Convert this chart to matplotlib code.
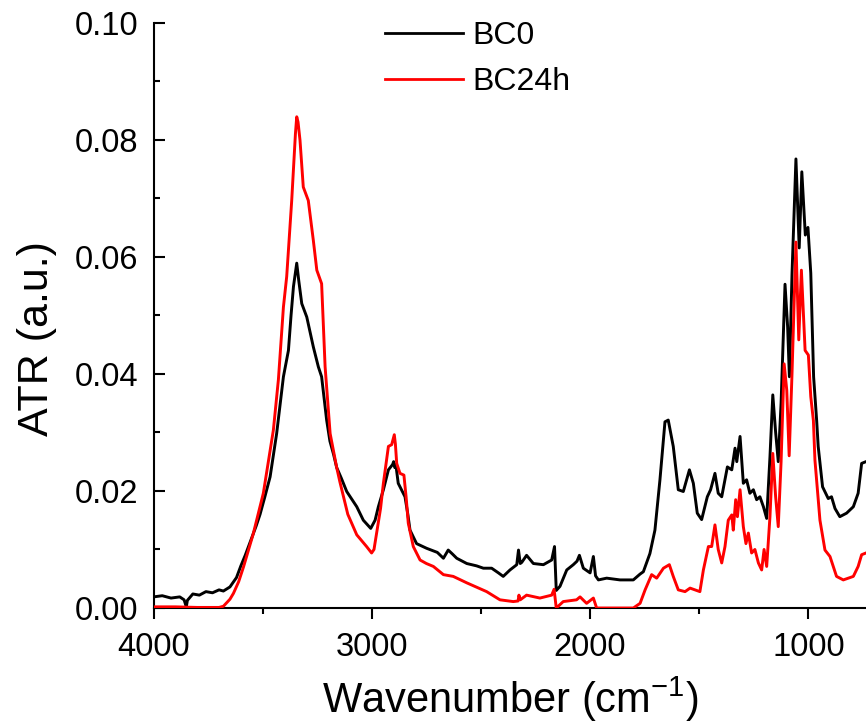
import matplotlib
matplotlib.use("Agg")
import matplotlib.pyplot as plt
from matplotlib.ticker import MultipleLocator

plt.rcParams['font.family'] = ['Liberation Sans', 'DejaVu Sans']
plt.rcParams['mathtext.fontset'] = 'custom'
plt.rcParams['mathtext.rm'] = 'Liberation Sans'
plt.rcParams['mathtext.it'] = 'Liberation Sans'
plt.rcParams['mathtext.default'] = 'regular'

# ---- data (wavenumber cm-1, ATR a.u.) ----
bc0_wn = [4000, 3960, 3920, 3880, 3860, 3850, 3845, 3820, 3790, 3760, 3730, 3700, 3680,
          3650, 3620, 3600, 3580, 3558, 3530, 3512, 3490, 3466, 3436, 3405, 3382, 3370,
          3359, 3344, 3335, 3321, 3298, 3268, 3245, 3230, 3207, 3192, 3175, 3161, 3140,
          3115, 3069, 3039, 3005, 2985, 2970, 2947, 2924, 2905, 2900, 2895, 2890, 2879,
          2848, 2835, 2825, 2795, 2749, 2700, 2672, 2650, 2630, 2611, 2565, 2520, 2489,
          2451, 2420, 2398, 2367, 2336, 2328, 2320, 2313, 2291, 2260, 2214, 2176, 2163,
          2155, 2138, 2107, 2077, 2060, 2049, 2031, 2000, 1985, 1975, 1962, 1924, 1863,
          1802, 1771, 1756, 1726, 1703, 1680, 1657, 1642, 1619, 1596, 1573, 1545, 1527,
          1509, 1489, 1463, 1448, 1428, 1413, 1397, 1371, 1351, 1336, 1328, 1313, 1298,
          1283, 1268, 1252, 1237, 1222, 1206, 1191, 1176, 1163, 1150, 1138, 1125, 1107,
          1095, 1087, 1075, 1065, 1057, 1042, 1030, 1014, 1002, 989, 976, 962, 955, 935,
          909, 894, 878, 856, 825, 794, 772, 756, 736]
bc0_y = [0.0019, 0.0021, 0.0017, 0.0019, 0.0014, 0.0002, 0.0013, 0.0024, 0.0022, 0.0028,
         0.0026, 0.0031, 0.0029, 0.0036, 0.0052, 0.0072, 0.0090, 0.0112, 0.0140, 0.0160,
         0.0190, 0.0224, 0.0298, 0.0395, 0.0440, 0.0500, 0.0549, 0.0589, 0.0560, 0.0520,
         0.0497, 0.0446, 0.0412, 0.0395, 0.0321, 0.0285, 0.0262, 0.0240, 0.0222, 0.0199,
         0.0173, 0.0150, 0.0136, 0.0150, 0.0173, 0.0202, 0.0236, 0.0245, 0.0250, 0.0240,
         0.0245, 0.0213, 0.0190, 0.0160, 0.0133, 0.0110, 0.0102, 0.0095, 0.0085, 0.0099,
         0.0092, 0.0085, 0.0076, 0.0072, 0.0068, 0.0068, 0.0060, 0.0054, 0.0065, 0.0074,
         0.0099, 0.0076, 0.0078, 0.0090, 0.0076, 0.0074, 0.0082, 0.0105, 0.0030, 0.0037,
         0.0065, 0.0074, 0.0080, 0.0090, 0.0068, 0.0060, 0.0088, 0.0055, 0.0048, 0.0051,
         0.0048, 0.0048, 0.0058, 0.0062, 0.0093, 0.0133, 0.0219, 0.0318, 0.0321, 0.0276,
         0.0202, 0.0199, 0.0236, 0.0213, 0.0162, 0.0151, 0.0190, 0.0202, 0.0230, 0.0196,
         0.0190, 0.0241, 0.0236, 0.0273, 0.0250, 0.0293, 0.0213, 0.0219, 0.0196, 0.0202,
         0.0185, 0.0190, 0.0173, 0.0153, 0.0258, 0.0364, 0.0300, 0.0250, 0.0350, 0.0553,
         0.0480, 0.0395, 0.0570, 0.0680, 0.0767, 0.0615, 0.0745, 0.0637, 0.0650, 0.0572,
         0.0395, 0.0320, 0.0276, 0.0207, 0.0187, 0.0190, 0.0170, 0.0156, 0.0162, 0.0173,
         0.0196, 0.0247, 0.0250]

bc24_wn = [4000, 3900, 3800, 3700, 3680, 3650, 3634, 3610, 3588, 3543, 3497, 3451, 3428,
           3405, 3390, 3367, 3350, 3344, 3338, 3329, 3314, 3300, 3291, 3268, 3252, 3230,
           3214, 3191, 3161, 3146, 3110, 3069, 3040, 3024, 3001, 2990, 2978, 2960, 2947,
           2924, 2909, 2897, 2892, 2886, 2871, 2853, 2843, 2833, 2810, 2779, 2750, 2718,
           2672, 2627, 2565, 2474, 2413, 2352, 2330, 2326, 2320, 2291, 2230, 2176, 2165,
           2155, 2123, 2062, 2046, 2016, 1985, 1970, 1802, 1771, 1748, 1718, 1695, 1664,
           1637, 1619, 1596, 1565, 1542, 1497, 1481, 1458, 1443, 1428, 1413, 1397, 1382,
           1367, 1351, 1344, 1333, 1325, 1313, 1298, 1286, 1275, 1260, 1245, 1229, 1214,
           1203, 1191, 1176, 1163, 1150, 1138, 1125, 1111, 1099, 1088, 1075, 1057, 1044,
           1032, 1015, 1000, 989, 977, 970, 947, 924, 901, 886, 871, 840, 794, 772, 756, 736]
bc24_y = [0.0002, 0.0002, 0.0001, 0.0001, 0.0003, 0.0015, 0.0025, 0.0045, 0.0070, 0.0127,
          0.0196, 0.0304, 0.0390, 0.0514, 0.0566, 0.0696, 0.0810, 0.0839, 0.0830, 0.0799,
          0.0719, 0.0705, 0.0696, 0.0628, 0.0577, 0.0554, 0.0412, 0.0298, 0.0240, 0.0215,
          0.0160, 0.0125, 0.0112, 0.0105, 0.0094, 0.0100, 0.0128, 0.0170, 0.0213, 0.0276,
          0.0279, 0.0296, 0.0280, 0.0247, 0.0230, 0.0227, 0.0190, 0.0145, 0.0105, 0.0082,
          0.0076, 0.0071, 0.0057, 0.0054, 0.0043, 0.0028, 0.0014, 0.0011, 0.0012, 0.0022,
          0.0014, 0.0022, 0.0017, 0.0022, 0.0032, 0.0000, 0.0011, 0.0014, 0.0019, 0.0008,
          0.0017, 0.0000, 0.0000, 0.0008, 0.0031, 0.0057, 0.0051, 0.0068, 0.0074, 0.0054,
          0.0031, 0.0028, 0.0034, 0.0028, 0.0065, 0.0105, 0.0105, 0.0142, 0.0100, 0.0077,
          0.0105, 0.0150, 0.0159, 0.0133, 0.0185, 0.0156, 0.0202, 0.0139, 0.0110, 0.0128,
          0.0094, 0.0100, 0.0077, 0.0065, 0.0100, 0.0071, 0.0156, 0.0264, 0.0190, 0.0139,
          0.0250, 0.0417, 0.0372, 0.0260, 0.0400, 0.0625, 0.0458, 0.0577, 0.0440, 0.0432,
          0.0361, 0.0320, 0.0253, 0.0150, 0.0099, 0.0088, 0.0071, 0.0054, 0.0048, 0.0054,
          0.0071, 0.0091, 0.0094]

labels = ['BC0', 'BC24h']
colors = ['black', '#ff0000']

fig = plt.figure(figsize=(8.66, 7.24), dpi=100)
ax = fig.add_axes([0.1773, 0.1602, 0.8227, 0.8087])

ax.plot(bc0_wn, bc0_y, color=colors[0], lw=2.1, label=labels[0], zorder=2)
ax.plot(bc24_wn, bc24_y, color=colors[1], lw=2.1, label=labels[1], zorder=3)

ax.set_xlim(4000, 736)
ax.set_ylim(0, 0.10)

ax.xaxis.set_major_locator(MultipleLocator(1000))
ax.xaxis.set_minor_locator(MultipleLocator(500))
ax.yaxis.set_major_locator(MultipleLocator(0.02))
ax.yaxis.set_minor_locator(MultipleLocator(0.01))
ax.yaxis.set_major_formatter(matplotlib.ticker.FormatStrFormatter('%.2f'))

for s in ['top', 'right']:
    ax.spines[s].set_visible(False)
for s in ['left', 'bottom']:
    ax.spines[s].set_linewidth(1.5)

ax.tick_params(axis='y', which='both', direction='in', width=1.5, labelsize=23.5, pad=11)
ax.tick_params(axis='y', which='major', length=8)
ax.tick_params(axis='y', which='minor', length=4.5)
ax.tick_params(axis='x', which='both', direction='out', width=1.5, labelsize=23.5, pad=9)
ax.tick_params(axis='x', which='major', length=8)
ax.tick_params(axis='x', which='minor', length=4.5)

ax.set_xlabel(r'Wavenumber (cm$^{-1}$)', fontsize=30)
ax.set_ylabel('ATR (a.u.)', fontsize=31)
ax.xaxis.set_label_coords(0.50, -0.113)
ax.yaxis.set_label_coords(-0.135, 0.461)

leg = ax.legend(loc='upper left', bbox_to_anchor=(0.4446, 0.971),
                bbox_transform=fig.transFigure, frameon=False, fontsize=23,
                handlelength=2.45, handletextpad=0.3, labelspacing=0.5,
                borderpad=0, borderaxespad=0)
for line in leg.get_lines():
    line.set_linewidth(2.0)

fig.savefig('out.png', dpi=100)
